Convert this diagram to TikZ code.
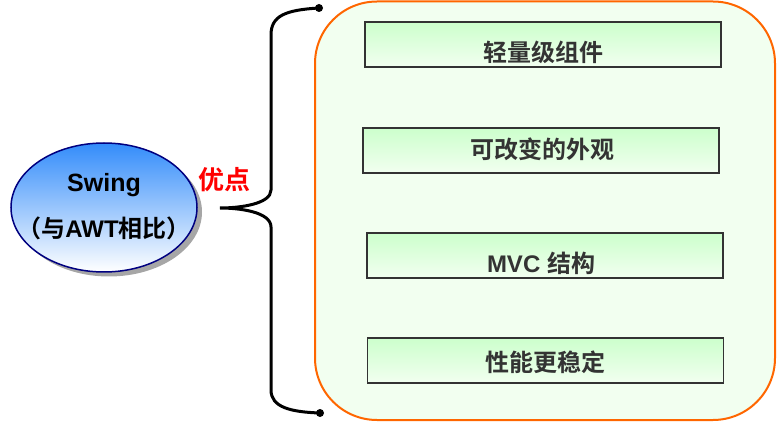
\documentclass[tikz,border=0pt]{standalone}
\usepackage{fontspec}
\setmainfont{Liberation Sans}
\newfontfamily\cjk{Noto Sans CJK SC}[BoldFont={Noto Sans CJK SC Bold}]
\usetikzlibrary{shapes.geometric}
\definecolor{navy}{RGB}{0,0,128}
\definecolor{skyb}{RGB}{51,140,250}
\definecolor{orng}{RGB}{255,102,0}
\definecolor{panel}{RGB}{242,255,240}
\definecolor{lgreen}{RGB}{204,255,204}
\definecolor{dgray}{RGB}{51,51,51}
\tikzset{
  featbox/.style={draw=dgray,line width=1.2pt,top color=lgreen,bottom color=panel,
    minimum width=356pt,minimum height=45pt,inner sep=0pt},
  feattext/.style={text=dgray,font=\bfseries\fontsize{24}{24}\selectfont,inner sep=0pt,anchor=center},
  bracedot/.style={circle,fill=black,inner sep=0pt,minimum size=8pt}
}
\begin{document}
\begin{tikzpicture}[x=1pt,y=-1pt]
\useasboundingbox (0,0) rectangle (777,422);
% panel
\draw[orng,line width=2pt,fill=panel,rounded corners=62pt] (315,1.5) rectangle (775,420);
% ellipse with shadow
\fill[black!35] (109,212) ellipse [x radius=93,y radius=64.5];
\node[ellipse,draw=navy,line width=1.5pt,top color=skyb,bottom color=white,
  minimum width=186pt,minimum height=129pt,inner sep=0pt] (swing) at (104,207.5) {};
\node[font=\bfseries\fontsize{25}{25}\selectfont,inner sep=0pt] (swt) at (104,185) {Swing};
\node[font=\bfseries\fontsize{24}{24}\selectfont,inner sep=0pt] (swc) at (104,228) {{\cjk （与}AWT{\cjk 相比）}};
% label
\node[text=red,font=\cjk\bfseries\fontsize{26}{26}\selectfont,inner sep=0pt] (adv) at (224,180) {优点};
% brace
\node[bracedot] (dtop) at (319,8) {};
\node[bracedot] (dbot) at (320,413) {};
\coordinate (tip) at (220,208);
\draw[line width=3pt,line cap=round] (dtop.center) .. controls (285,10) and (271,16) .. (271,35)
  -- (271,190) .. controls (271,204) and (240,208) .. (tip)
  .. controls (240,208) and (271,212) .. (271,227)
  -- (271,390) .. controls (271,407) and (290,412) .. (dbot.center);
% feature boxes
\node[featbox] (b1) at (543,44.5) {};
\node[feattext] (t1) at (543,52) {\cjk 轻量级组件};
\node[featbox] (b2) at (541,150.5) {};
\node[feattext] (t2) at (542,149) {\cjk 可改变的外观};
\node[featbox] (b3) at (545,255.5) {};
\node[feattext] (t3) at (541,263) {MVC {\cjk 结构}};
\node[featbox] (b4) at (545.5,360.5) {};
\node[feattext] (t4) at (545,362) {\cjk 性能更稳定};
\end{tikzpicture}
\end{document}
